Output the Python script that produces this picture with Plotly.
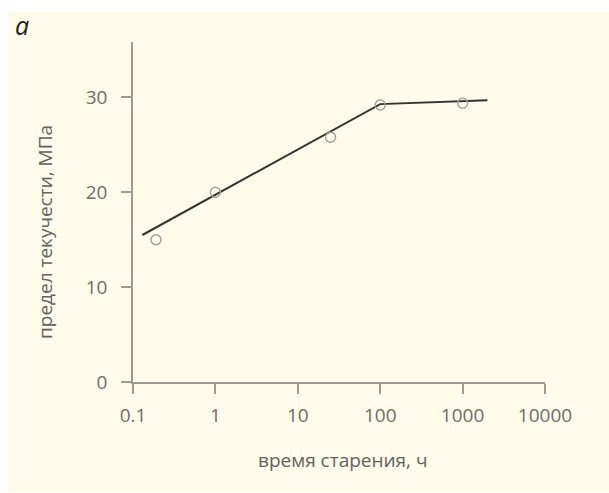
import plotly.graph_objects as go

# Data
age_hours = [0.19, 1.0, 25.0, 100.0, 1000.0]
yield_mpa = [15.0, 20.0, 25.8, 29.2, 29.4]

fit_hours = [0.13, 100.0, 2000.0]
fit_mpa = [15.5, 29.3, 29.7]

x_tickvals = [0.1, 1, 10, 100, 1000, 10000]
x_ticktext = ["0.1", "1", "10", "100", "1000", "10000"]
y_tickvals = [0, 10, 20, 30]

W, H = 609, 493
L, R, T, B = 133, 64, 42, 111
pw, ph = W - L - R, H - T - B


def px(xp):
    return (xp - L) / pw


def py(yp):
    return (H - B - yp) / ph


axis_col = "#9c9c92"
tick_font_col = "#6e6e6b"
title_col = "#626260"
bg = "#fefbea"
FONT = "Open Sans"

fig = go.Figure()
fig.add_trace(go.Scatter(
    x=fit_hours, y=fit_mpa, mode="lines",
    line=dict(color="#333333", width=2), showlegend=False, hoverinfo="skip"))
fig.add_trace(go.Scatter(
    x=age_hours, y=yield_mpa, mode="markers",
    marker=dict(symbol="circle-open", size=10, color="#a0a09a", line=dict(width=1.4)),
    showlegend=False))

fig.update_layout(
    width=W, height=H,
    margin=dict(l=L, r=R, t=T, b=B, pad=0),
    paper_bgcolor="white",
    plot_bgcolor="rgba(0,0,0,0)",
    font=dict(family=FONT),
    shapes=[dict(type="rect", xref="paper", yref="paper",
                 x0=px(8), x1=px(W), y0=py(H - 1), y1=py(12),
                 fillcolor=bg, line=dict(width=0), layer="below")],
    xaxis=dict(type="log", range=[-1, 4], showgrid=False, zeroline=False,
               showline=True, linecolor=axis_col, linewidth=1.5,
               ticks="outside", ticklen=10, tickwidth=1.5, tickcolor=axis_col,
               tickvals=x_tickvals, ticktext=x_ticktext,
               tickfont=dict(size=19, color=tick_font_col, family=FONT),
               ticklabelstandoff=5),
    yaxis=dict(range=[0, 35.85], showgrid=False, zeroline=False,
               showline=True, linecolor=axis_col, linewidth=1.5,
               ticks="outside", ticklen=10, tickwidth=1.5, tickcolor=axis_col,
               tickvals=y_tickvals,
               tickfont=dict(size=19, color=tick_font_col, family=FONT),
               ticklabelstandoff=10),
    annotations=[
        dict(text="время старения, ч", xref="paper", yref="paper",
             x=px(342.5), y=py(460), xanchor="center", yanchor="middle",
             showarrow=False, font=dict(size=19, color=title_col, family=FONT)),
        dict(text="предел текучести, МПа", xref="paper", yref="paper",
             x=px(45), y=py(232), xanchor="center", yanchor="middle",
             textangle=-90, showarrow=False,
             font=dict(size=19, color=title_col, family=FONT)),
        dict(text="<i>а</i>", xref="paper", yref="paper",
             x=px(22), y=py(25), xanchor="center", yanchor="middle",
             showarrow=False, font=dict(size=25, color="#222222", family=FONT)),
    ],
)

fig.write_html("out.html")
